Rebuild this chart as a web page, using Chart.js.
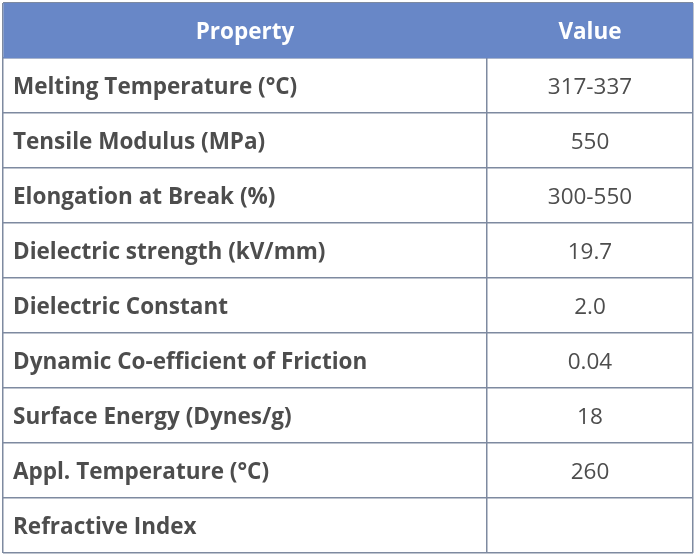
<!DOCTYPE html>
<html>
<head>
<meta charset="utf-8">
<script src="https://cdn.jsdelivr.net/npm/chart.js@4"></script>
<style>
  html, body { margin: 0; padding: 0; background: #fff; }
  #wrap { width: 698px; height: 559px; }
</style>
</head>
<body>
<div id="wrap"><canvas id="myChart"></canvas></div>
<script>
// table content
var headers = ['Property', 'Value'];
var properties = [
    'Melting Temperature (°C)',
    'Tensile Modulus (MPa)',
    'Elongation at Break (%)',
    'Dielectric strength (kV/mm)',
    'Dielectric Constant',
    'Dynamic Co-efficient of Friction',
    'Surface Energy (Dynes/g)',
    'Appl. Temperature (°C)',
    'Refractive Index'
];
var values = ['317-337', '550', '300-550', '19.7', '2.0', '0.04', '18', '260', ''];
var columnSplit = 0.7014; // where "Value" column starts, as fraction of width

var rows = ['header'].concat(properties);

var tableText = {
    id: 'tableText',
    afterDatasetsDraw: function (chart) {
        var ctx = chart.ctx;
        var x = chart.scales.x, y = chart.scales.y;
        var left = x.getPixelForValue(0);
        var mid = x.getPixelForValue(columnSplit);
        var right = x.getPixelForValue(1);
        ctx.save();
        ctx.textBaseline = 'middle';
        ctx.textAlign = 'center';
        ctx.fillStyle = '#ffffff';
        ctx.font = 'bold 22.5px "Open Sans"';
        var hy = y.getPixelForValue(0) + 2;
        ctx.fillText(headers[0], (left + mid) / 2, hy);
        ctx.fillText(headers[1], (mid + right) / 2, hy);

        ctx.fillStyle = '#4d4d4d';
        properties.forEach(function (p, i) {
            var py = y.getPixelForValue(i + 1) + 2;
            ctx.textAlign = 'left';
            ctx.font = 'bold 22.5px "Open Sans"';
            ctx.fillText(p, left + 10, py);
            ctx.textAlign = 'center';
            ctx.font = '22.5px "Open Sans"';
            ctx.fillText(values[i], (mid + right) / 2, py);
        });
        ctx.restore();
    }
};

var ctx = document.getElementById('myChart');
var myChart = new Chart(ctx, {
    type: 'bar',
    data: {
        labels: rows,
        datasets: [{
            data: rows.map(function (r, i) { return i === 0 ? [0, 1] : null; }),
            backgroundColor: '#6887c7',
            borderWidth: 0,
            barPercentage: 1,
            categoryPercentage: 1
        }]
    },
    options: {
        indexAxis: 'y',
        responsive: true,
        maintainAspectRatio: false,
        animation: false,
        layout: { padding: { left: 3, right: 5, top: 3, bottom: 6 } },
        plugins: { legend: { display: false }, tooltip: { enabled: false } },
        scales: {
            x: {
                type: 'linear', min: 0, max: 1,
                afterBuildTicks: function (axis) {
                    axis.ticks = [{ value: 0 }, { value: columnSplit }, { value: 1 }];
                },
                ticks: { display: false },
                grid: { color: '#7e8aa0', lineWidth: 1.5, drawTicks: false },
                border: { display: false }
            },
            y: {
                ticks: { display: false },
                grid: { offset: true, color: '#7e8aa0', lineWidth: 1.5, drawTicks: false },
                border: { display: false }
            }
        }
    },
    plugins: [tableText]
});

window.chart = myChart;
</script>
</body>
</html>
